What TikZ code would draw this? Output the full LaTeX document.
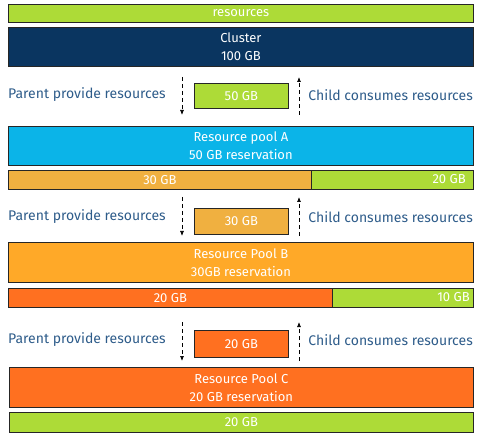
\documentclass[tikz,border=0pt]{standalone}
\usepackage{fontspec}
\setmainfont{Fira Sans}
\usetikzlibrary{arrows.meta}
\definecolor{cgreen}{HTML}{ADDB37}
\definecolor{cnavy}{HTML}{0A3560}
\definecolor{cblue}{HTML}{0BB4E8}
\definecolor{corange}{HTML}{F0B040}
\definecolor{cpoolb}{HTML}{FFA928}
\definecolor{cred}{HTML}{FF7020}
\definecolor{ctext}{HTML}{2E5C8A}
\tikzset{
  bar/.style={draw=black!85, line width=0.8pt, inner sep=0pt, text=white, font=\fontsize{13}{15}\selectfont},
  big/.style={align=center, font=\fontsize{13}{18}\selectfont},
  side/.style={text=ctext, font=\fontsize{14}{16}\selectfont, inner sep=0pt},
  wtext/.style={text=white, font=\fontsize{13}{15}\selectfont, anchor=east, inner sep=0pt},
  flow/.style={line width=0.7pt, dash pattern=on 4pt off 3pt, -{Latex[length=5pt,width=4pt]}}
}
\begin{document}
\begin{tikzpicture}[x=1pt,y=-1pt]
\useasboundingbox (0,0) rectangle (483,436);
% top resources
\node[bar, fill=cgreen, minimum width=465, minimum height=18, anchor=north west] (res) at (8,4) {resources};
\node[bar, big, fill=cnavy, minimum width=465, minimum height=39, anchor=north west] (cluster) at (8,27) {Cluster\\100 GB};
% row 1
\node[side, anchor=west] (p1) at (8,95) {Parent provide resources};
\node[side, anchor=east] (c1) at (473,95) {Child consumes resources};
\node[bar, fill=cgreen, minimum width=94, minimum height=25, anchor=north west] (b1) at (194,83) {50 GB};
\coordinate (d1s) at (182,77); \coordinate (d1e) at (182,115);
\coordinate (u1s) at (299,115); \coordinate (u1e) at (299,77);
\draw[flow] (d1s) -- (d1e);
\draw[flow] (u1s) -- (u1e);
% pool A
\node[bar, big, fill=cblue, minimum width=465, minimum height=39, anchor=north west] (poolA) at (8,126) {Resource pool A\\50 GB reservation};
\node[bar, fill=corange, minimum width=303, minimum height=19, anchor=north west] (a30) at (8,170) {30 GB};
\node[bar, fill=cgreen, minimum width=162, minimum height=19, anchor=north west] (a20) at (311,170) {};
\node[wtext] (a20t) at (466,179.5) {20 GB};
% row 2
\node[side, anchor=west] (p2) at (8,217) {Parent provide resources};
\node[side, anchor=east] (c2) at (473,217) {Child consumes resources};
\node[bar, fill=corange, minimum width=94, minimum height=26, anchor=north west] (b2) at (194,208) {30 GB};
\coordinate (d2s) at (182,197); \coordinate (d2e) at (182,236);
\coordinate (u2s) at (299,236); \coordinate (u2e) at (299,197);
\draw[flow] (d2s) -- (d2e);
\draw[flow] (u2s) -- (u2e);
% pool B
\node[bar, big, fill=cpoolb, minimum width=465, minimum height=40, anchor=north west] (poolB) at (8,242) {Resource Pool B\\30GB reservation};
\node[bar, fill=cred, minimum width=324, minimum height=19, anchor=north west] (b20) at (8,288) {20 GB};
\node[bar, fill=cgreen, minimum width=141, minimum height=19, anchor=north west] (b10) at (332,288) {};
\node[wtext] (b10t) at (470,297.5) {10 GB};
% row 3
\node[side, anchor=west] (p3) at (8,340) {Parent provide resources};
\node[side, anchor=east] (c3) at (473,340) {Child consumes resources};
\node[bar, fill=cred, minimum width=94, minimum height=27, anchor=north west] (b3) at (194,330) {20 GB};
\coordinate (d3s) at (182,322); \coordinate (d3e) at (182,361);
\coordinate (u3s) at (299,361); \coordinate (u3e) at (299,322);
\draw[flow] (d3s) -- (d3e);
\draw[flow] (u3s) -- (u3e);
% pool C
\node[bar, big, fill=cred, minimum width=464, minimum height=40, anchor=north west] (poolC) at (9,367) {Resource Pool C\\20 GB reservation};
\node[bar, fill=cgreen, minimum width=464, minimum height=20, anchor=north west] (c20) at (9,412) {20 GB};
\end{tikzpicture}
\end{document}
